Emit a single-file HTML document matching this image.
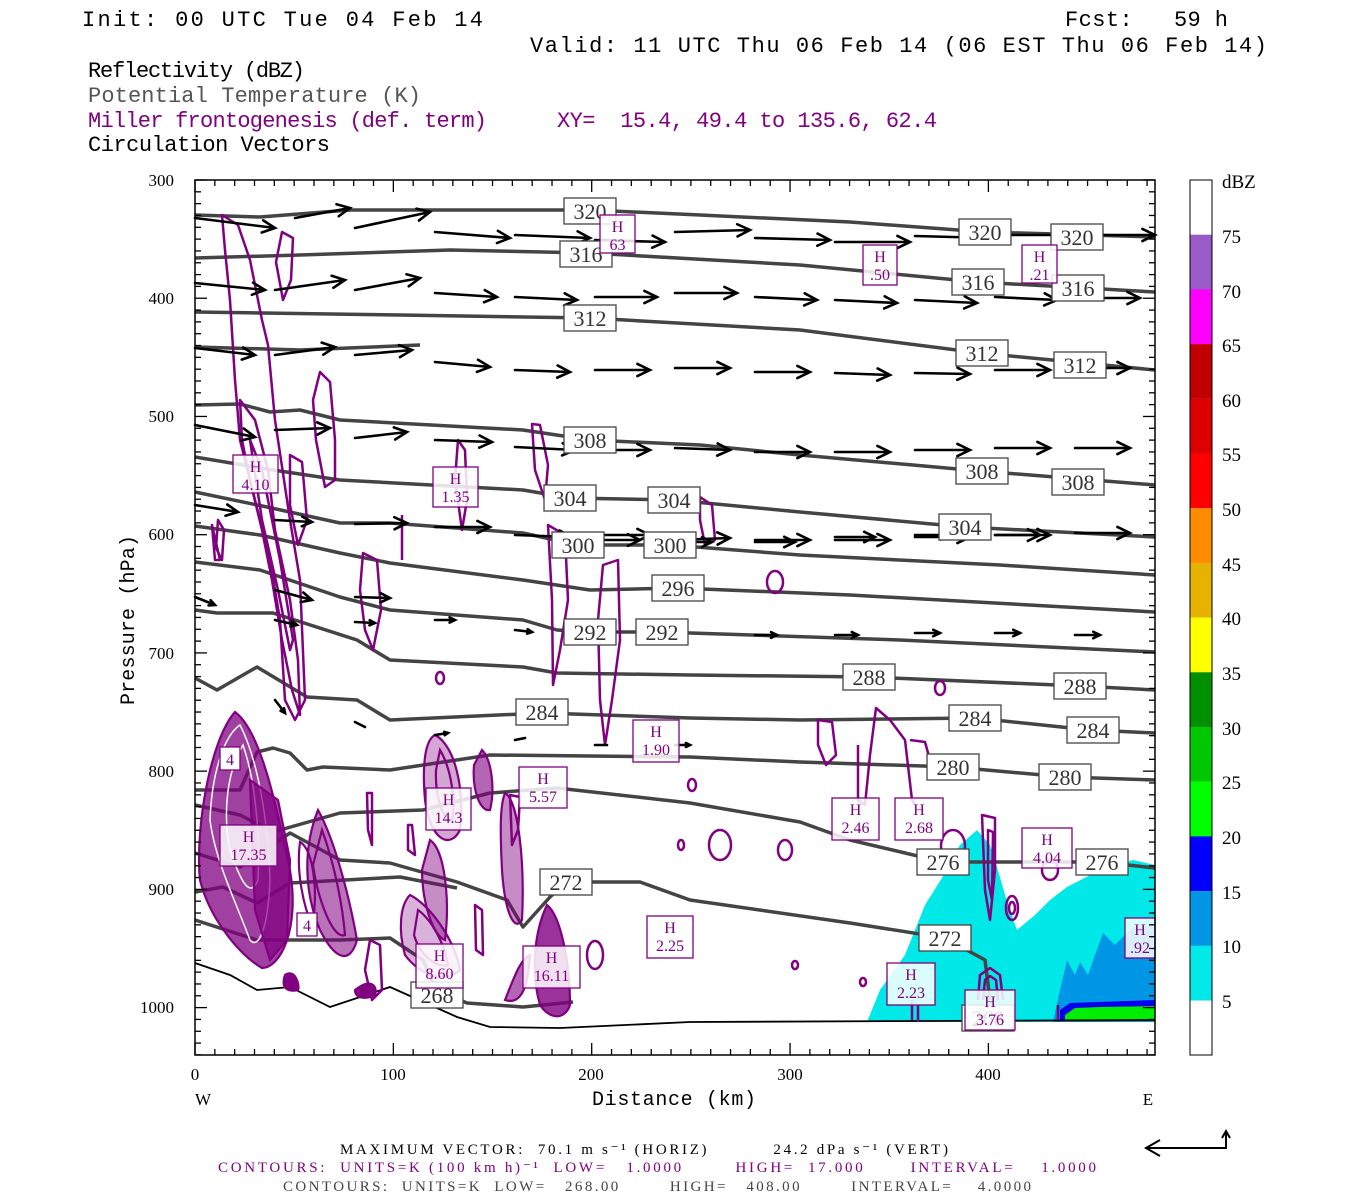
<!DOCTYPE html>
<html><head><meta charset="utf-8"><style>
body{margin:0;background:#fff}
svg{display:block}
text{white-space:pre}
.t{font-family:"Liberation Mono",monospace}
.s{font-family:"Liberation Serif",serif}
</style></head><body>
<svg id="g" width="1350" height="1200" xmlns="http://www.w3.org/2000/svg" xml:space="preserve">
<rect width="1350" height="1200" fill="#fff"/>
<g class="t" font-size="22">
<text x="82" y="26" textLength="401" lengthAdjust="spacing">Init: 00 UTC Tue 04 Feb 14</text>
<text x="1065" y="26" textLength="163" lengthAdjust="spacing">Fcst:   59 h</text>
<text x="530" y="52" textLength="737" lengthAdjust="spacing">Valid: 11 UTC Thu 06 Feb 14 (06 EST Thu 06 Feb 14)</text>
<text x="88" y="77" textLength="217" lengthAdjust="spacing">Reflectivity (dBZ)</text>
<text x="88" y="102" fill="#555" textLength="333" lengthAdjust="spacing">Potential Temperature (K)</text>
<text x="88" y="127" fill="#800080" textLength="399" lengthAdjust="spacing">Miller frontogenesis (def. term)</text>
<text x="557" y="127" fill="#800080" textLength="380" lengthAdjust="spacing">XY=  15.4, 49.4 to 135.6, 62.4</text>
<text x="88" y="151" textLength="242" lengthAdjust="spacing">Circulation Vectors</text>
</g>
<path d="M867,1022 L880,990 L905,955 L925,905 L942,878 L960,845 L977,830 L990,845 L997,867 L1008,905 L1017,930 L1035,915 L1050,900 L1067,887 L1100,870 L1133,860 L1155,865 L1155,1022 Z" fill="#00e8e8"/>
<path d="M1053,1022 L1060,990 L1067,960 L1075,975 L1080,962 L1088,975 L1095,955 L1103,933 L1115,945 L1133,927 L1155,925 L1155,1022 Z" fill="#0096e6"/>
<path d="M1060,1010 L1070,1003 L1100,1002 L1155,1000 L1155,1020 L1060,1020 Z" fill="#0000ee"/>
<path d="M1065,1015 L1075,1008 L1100,1007 L1155,1006 L1155,1020 L1065,1020 Z" fill="#00ee00"/>
<g fill="none" stroke="#444" stroke-width="3.5" stroke-linejoin="round">
<polyline points="195,215 260,217 350,210 590,210 700,215 850,222 985,232 1155,237"/>
<polyline points="195,258 300,255 450,250 590,253 800,265 978,282 1155,292"/>
<polyline points="195,312 400,315 590,318 800,330 980,353 1155,370"/>
<polyline points="195,347 300,350 420,345"/>
<polyline points="195,405 240,404 270,412 300,410 340,420 523,430 590,440 700,445 800,455 980,471 1155,485"/>
<polyline points="195,457 273,470 340,480 523,490 570,498 674,500 800,512 965,527 1155,537"/>
<polyline points="195,492 267,507 340,523 390,523 523,533 578,545 670,545 800,555 1000,565 1155,575"/>
<polyline points="195,526 260,535 340,553 390,563 523,580 590,590 678,588 850,595 1155,612"/>
<polyline points="195,562 260,570 340,597 390,610 523,620 557,630 590,632 660,632 900,640 1155,652"/>
<polyline points="195,610 217,613 273,613 357,640 390,660 523,667 557,673 690,675 869,677 1080,686 1155,690"/>
<polyline points="195,678 217,690 257,667 307,697 357,700 390,720 543,713 690,718 800,720 975,718 1090,730 1155,733"/>
<polyline points="195,790 240,790 257,752 273,748 290,753 307,770 323,767 390,770 490,755 690,757 800,762 953,767 1065,777 1155,780"/>
<polyline points="195,805 240,815 273,832 340,813 423,810 490,793 557,788 690,803 800,822 850,840 943,862 1100,862 1155,868"/>
<polyline points="195,853 240,867 290,833 340,860 390,863 457,882 507,900 523,927 550,897 566,882 640,882 690,900 850,923 945,938 985,960 990,1000"/>
<polyline points="195,892 223,887 257,903 290,883 400,877 457,888"/>
<polyline points="195,920 257,940 340,940 390,938 423,960 436,990 467,1003 523,1007 573,1002"/>
</g>
<polyline points="195,963 230,975 257,990 290,987 330,1007 390,987 457,1017 490,1027 560,1028 690,1022 1155,1020" fill="none" stroke="#000" stroke-width="1.8"/>
<g fill="none" stroke="#800080" stroke-width="2.5" stroke-linejoin="round">
<polygon points="222,215 238,225 250,260 262,320 268,345 275,420 290,520 300,580 305,700 295,720 285,700 280,620 270,560 255,500 240,440 235,380 230,300 225,250"/>
<polygon points="240,400 255,420 268,470 275,530 290,600 298,660 300,715 292,690 282,640 272,580 262,530 250,480 242,440"/>
<polygon points="250,440 262,470 280,560 293,640 290,650 278,590 262,520"/>
<polygon points="282,232 293,238 291,280 283,300 276,262"/>
<polygon points="320,372 330,382 335,440 335,480 325,487 316,440 313,400"/>
<polygon points="290,455 302,462 307,520 298,545 290,505"/>
<polygon points="218,520 224,530 222,560 216,548"/>
<polygon points="212,525 220,560 215,560"/>
<polygon points="363,553 377,560 381,610 373,650 365,630 360,590"/>
<polyline points="402,515 402,560"/>
<polygon points="548,525 565,535 568,600 560,650 553,685 552,600"/>
<polygon points="603,565 618,560 620,640 612,700 605,745 600,700 598,620"/>
<polygon points="532,424 540,425 548,465 545,500 535,470"/>
<polygon points="458,440 465,450 467,500 462,530 455,480"/>
<polygon points="700,497 712,505 715,540 705,545 700,520"/>
<ellipse cx="775" cy="582" rx="8" ry="11"/>
<polygon points="818,720 832,722 836,755 826,765 818,745"/>
<polyline points="858,745 858,800 865,805 870,755 876,708 890,720 905,740 912,800 915,805"/>
<polyline points="910,740 925,742 930,760"/>
<ellipse cx="440" cy="678" rx="4" ry="6"/>
<ellipse cx="940" cy="688" rx="5" ry="7"/>
<ellipse cx="720" cy="845" rx="11" ry="15"/>
<ellipse cx="785" cy="850" rx="7" ry="10"/>
<ellipse cx="692" cy="785" rx="4" ry="6"/>
<ellipse cx="681" cy="845" rx="3" ry="5"/>
<ellipse cx="595" cy="955" rx="8" ry="14"/>
<ellipse cx="795" cy="965" rx="3" ry="4"/>
<ellipse cx="863" cy="982" rx="3" ry="4"/>
<polygon points="367,793 372,793 372,845 368,830"/>
<polygon points="408,825 412,825 415,855 408,850"/>
<polygon points="510,795 520,797 518,830 512,845"/>
<polygon points="370,940 380,945 382,990 372,1000 365,970"/>
<polygon points="475,905 482,910 483,955 476,950"/>
<polygon points="982,815 995,818 995,870 990,920 985,890"/>
<polygon points="988,830 993,832 992,900 988,880"/>
<ellipse cx="1012" cy="908" rx="6" ry="12"/>
<ellipse cx="1012" cy="908" rx="3" ry="6"/>
<ellipse cx="953" cy="846" rx="12" ry="16"/>
<polygon points="928,930 950,928 965,940 950,950 930,945"/>
<polyline points="978,1000 980,975 990,968 1000,975 1003,1000"/>
<polyline points="983,1000 985,980 990,976 996,980 998,1000"/>
<line x1="912" y1="1000" x2="912" y2="1020"/>
<line x1="918" y1="1005" x2="918" y2="1022"/>
<line x1="1058" y1="1005" x2="1058" y2="1020"/>
<ellipse cx="1050" cy="870" rx="8" ry="10"/>
</g>
<g fill="none" stroke="#800080" stroke-width="2.2">
<path d="M235,712 C260,730 275,800 290,870 C300,930 280,968 262,968 C240,955 210,920 200,880 C195,830 210,740 235,712 Z" fill="#800080" fill-opacity="0.75"/>
<path d="M240,725 C258,760 268,820 270,880 C268,930 258,950 250,940 C235,900 215,860 210,820 C212,770 225,735 240,725 Z" stroke="#fff" stroke-width="1.5"/>
<path d="M243,745 C255,780 260,830 258,880 C250,900 240,880 230,850 C222,810 228,770 243,745 Z" stroke="#fff" stroke-width="1.5"/>
<path d="M250,780 L278,800 L290,860 L287,940 L270,960 L255,910 Z" fill="#800080" fill-opacity="0.7"/>
<path d="M318,810 C335,840 350,900 357,940 C350,965 335,960 320,930 C305,895 302,850 318,810 Z" fill="#800080" fill-opacity="0.55"/>
<path d="M322,830 C333,860 342,900 345,935 C333,940 318,900 313,865 Z"/>
<path d="M300,842 C315,850 318,900 312,925 C303,905 296,870 300,842 Z"/>
<path d="M435,735 C455,745 465,790 460,830 C450,850 430,840 425,800 C422,765 425,740 435,735 Z" fill="#800080" fill-opacity="0.35"/>
<path d="M440,750 C452,770 456,805 452,820 C442,820 435,795 436,770 Z"/>
<path d="M430,840 C445,850 450,900 445,940 C432,935 422,900 422,870 Z" fill="#800080" fill-opacity="0.45"/>
<path d="M410,895 C430,905 455,940 460,970 C445,985 420,975 405,955 C398,930 400,905 410,895 Z" fill="#800080" fill-opacity="0.3"/>
<path d="M418,910 C432,920 445,945 448,965 C435,968 420,955 414,935 Z"/>
<path d="M482,750 C492,760 495,790 490,810 C480,812 472,790 474,765 Z" fill="#800080" fill-opacity="0.6"/>
<path d="M505,793 C518,800 525,860 522,920 C515,932 505,915 502,870 C500,830 500,805 505,793 Z" fill="#800080" fill-opacity="0.45"/>
<path d="M547,905 C560,915 570,960 570,1005 C565,1020 550,1020 540,1005 C530,970 535,930 547,905 Z" fill="#800080" fill-opacity="0.8"/>
<path d="M285,975 C295,968 300,985 298,990 C290,992 280,990 285,975 Z" fill="#800080"/>
<path d="M355,990 C370,978 378,985 375,995 C365,1000 355,998 355,990 Z" fill="#800080"/>
<path d="M505,1000 C515,975 520,960 530,955 C528,990 520,1005 505,1000 Z" fill="#800080" fill-opacity="0.6"/>
</g>
<g id="vec" stroke="#000" stroke-width="2.6" fill="none" stroke-linecap="round"></g>
<g id="lab" class="s" font-size="22" fill="#333" text-anchor="middle"></g>
<g id="hl" class="s" font-size="16" fill="#800080" text-anchor="middle"></g>
<rect x="195" y="180" width="960" height="875" fill="none" stroke="#000" stroke-width="1.5"/>
<g id="ticks" stroke="#000" stroke-width="1.3"></g>
<g class="s" font-size="17" text-anchor="end">
<text x="174" y="186">300</text><text x="174" y="304">400</text><text x="174" y="422">500</text><text x="174" y="540">600</text><text x="174" y="659">700</text><text x="174" y="777">800</text><text x="174" y="895">900</text><text x="174" y="1013">1000</text>
</g>
<g class="s" font-size="17" text-anchor="middle">
<text x="195" y="1080">0</text><text x="393" y="1080">100</text><text x="591" y="1080">200</text><text x="790" y="1080">300</text><text x="988" y="1080">400</text>
<text x="203" y="1105">W</text><text x="1148" y="1105">E</text>
</g>
<text class="t" x="592" y="1105" font-size="20" textLength="164" lengthAdjust="spacing">Distance (km)</text>
<text class="t" font-size="20" transform="translate(134,705) rotate(-90)" textLength="170" lengthAdjust="spacing">Pressure (hPa)</text>
<g id="cb"></g>
<rect x="1190" y="180" width="22" height="875" fill="none" stroke="#000" stroke-width="1"/>
<g class="s" font-size="19">
<text x="1222" y="188">dBZ</text>
<text x="1222" y="243">75</text><text x="1222" y="298">70</text><text x="1222" y="352">65</text><text x="1222" y="407">60</text><text x="1222" y="461">55</text><text x="1222" y="516">50</text><text x="1222" y="571">45</text><text x="1222" y="625">40</text><text x="1222" y="680">35</text><text x="1222" y="735">30</text><text x="1222" y="789">25</text><text x="1222" y="844">20</text><text x="1222" y="899">15</text><text x="1222" y="953">10</text><text x="1222" y="1008">5</text>
</g>
<g class="s" font-size="15">
<text x="340" y="1154" textLength="608" lengthAdjust="spacing">MAXIMUM VECTOR:  70.1 m s⁻¹ (HORIZ)          24.2 dPa s⁻¹ (VERT)</text>
<text x="218" y="1172" fill="#800080" textLength="878" lengthAdjust="spacing">CONTOURS:  UNITS=K (100 km h)⁻¹  LOW=   1.0000        HIGH=  17.000       INTERVAL=    1.0000</text>
<text x="283" y="1191" fill="#444" textLength="748" lengthAdjust="spacing">CONTOURS:  UNITS=K  LOW=   268.00        HIGH=   408.00        INTERVAL=    4.0000</text>
</g>
<g stroke="#000" stroke-width="2" fill="none">
<polyline points="1226,1133 1226,1148 1146,1148"/>
<polyline points="1160,1140 1146,1148 1160,1156"/>
<polyline points="1222,1138 1226,1131 1230,1138"/>
</g>
</svg>
<script>
var NS="http://www.w3.org/2000/svg";
function el(p,t,a,txt){var e=document.createElementNS(NS,t);for(var k in a)e.setAttribute(k,a[k]);if(txt)e.textContent=txt;p.appendChild(e);return e;}
var vec=document.getElementById('vec');
function arrow(x1,y1,x2,y2){var d="M"+x1+","+y1+"L"+x2+","+y2;var L=Math.hypot(x2-x1,y2-y1);if(L>12){var a=Math.atan2(y2-y1,x2-x1),h=Math.min(14,L*0.3);
d+="M"+(x2-h*Math.cos(a-0.45))+","+(y2-h*Math.sin(a-0.45))+"L"+x2+","+y2+"L"+(x2-h*Math.cos(a+0.45))+","+(y2-h*Math.sin(a+0.45));}
el(vec,'path',{d:d});}
var rows=[
[[195,218,275,228],[295,218,350,208],[355,228,430,212],[435,232,510,238],[515,235,590,238],[595,240,665,242],[675,232,750,230],[755,238,830,240],[835,242,910,242],[915,236,990,238],[1000,235,1075,235],[1075,235,1155,235]],
[[195,283,265,290],[275,290,345,280],[355,290,420,278],[435,293,497,297],[515,297,577,300],[595,297,657,297],[675,293,737,293],[755,297,817,300],[835,300,897,303],[915,300,977,303],[995,297,1057,300],[1075,298,1140,298]],
[[195,348,255,355],[275,355,335,347],[355,355,412,350],[435,362,490,367],[515,370,570,372],[595,370,650,370],[675,368,730,368],[755,372,810,372],[835,373,890,375],[915,373,970,374],[995,370,1050,370],[1075,368,1130,368]],
[[195,425,255,437],[275,430,330,428],[355,438,407,432],[435,440,492,442],[515,447,575,450],[595,450,650,450],[675,448,730,450],[755,452,810,452],[835,452,890,452],[915,450,970,450],[995,448,1050,448],[1075,448,1130,448]],
[[195,505,238,512],[275,520,312,522],[355,524,407,523],[435,527,490,527],[515,535,572,537],[595,535,650,535],[675,540,730,538],[755,540,810,540],[835,540,890,540],[915,537,970,537],[995,535,1050,535],[1075,533,1130,533]],
[[195,597,215,605],[275,590,312,600],[355,597,390,598],[595,540,640,540],[675,542,712,542],[755,542,795,542],[835,537,875,537],[915,535,950,535],[995,535,1040,535]],
[[275,620,297,625],[355,622,375,623],[435,620,455,620],[515,630,532,632],[595,632,615,632],[755,635,777,635],[835,635,858,635],[915,633,940,633],[995,633,1020,633],[1075,635,1100,635]],
[[275,700,285,713],[355,722,365,727],[435,735,448,733],[515,740,525,738],[595,745,607,745],[675,745,690,745]]
];
rows.forEach(function(r){r.forEach(function(a){arrow(a[0],a[1],a[2],a[3]);});});
var lab=document.getElementById('lab');
[[320,590,211],[316,586,254],[312,590,318],[308,590,440],[304,570,498],[304,674,500],[300,578,545],[300,670,545],[296,678,588],[292,590,632],[292,662,632],[288,869,677],[288,1080,686],[284,542,712],[284,975,718],[284,1093,730],[280,953,767],[280,1065,777],[276,943,862],[276,1102,862],[272,566,882],[272,945,938],[268,437,995],[268,988,1018],[320,985,232],[320,1077,237],[316,978,282],[316,1078,288],[312,982,353],[312,1080,365],[308,982,471],[308,1078,482],[304,965,527]].forEach(function(l){
el(lab,'rect',{x:l[1]-26,y:l[2]-13,width:52,height:26,fill:'#fff',stroke:'#444','stroke-width':1.3});
el(lab,'text',{x:l[1],y:l[2]+8},String(l[0]));});
var hl=document.getElementById('hl');
[[600,215,35,38,"63"],[863,245,34,40,".50"],[1022,245,35,38,".21"],[233,455,45,38,"4.10"],[433,467,45,40,"1.35"],[633,720,46,42,"1.90"],[519,767,48,41,"5.57"],[426,788,45,42,"14.3"],[220,825,57,41,"17.35"],[832,798,47,42,"2.46"],[895,798,48,42,"2.68"],[1022,828,50,40,"4.04"],[647,916,46,42,"2.25"],[416,944,47,44,"8.60"],[523,946,57,42,"16.11"],[887,963,48,42,"2.23"],[965,990,50,40,"3.76"],[1125,918,30,40,".92"]].forEach(function(h){
el(hl,'rect',{x:h[0],y:h[1],width:h[2],height:h[3],fill:'#fff','fill-opacity':0.85,stroke:'#800080','stroke-width':1.3});
var cx=h[0]+h[2]/2;el(hl,'text',{x:cx,y:h[1]+17},"H");el(hl,'text',{x:cx,y:h[1]+35},h[4]);});
[[220,747,20,23],[297,913,20,23]].forEach(function(b){el(hl,'rect',{x:b[0],y:b[1],width:b[2],height:b[3],fill:'#fff',stroke:'#800080','stroke-width':1.3});el(hl,'text',{x:b[0]+10,y:b[1]+18},"4");});
var tk=document.getElementById('ticks');
for(var p=300;p<=1040;p+=10){var y=180+(p-300)*1.1823;var len=(p%100==0)?12:6;
el(tk,'line',{x1:195,y1:y,x2:195+len,y2:y});el(tk,'line',{x1:1155,y1:y,x2:1155-len,y2:y});}
for(var d=0;d<=484;d+=10){var x=195+d*1.9835;var len=(d%100==0)?12:6;
el(tk,'line',{x1:x,y1:1055,x2:x,y2:1055-len});el(tk,'line',{x1:x,y1:180,x2:x,y2:180+len});}
var cb=document.getElementById('cb');
var cols=["#fff","#9a5ac8","#ff00ff","#c00000","#dc0000","#ff0000","#ff8c00","#e6b400","#ffff00","#009000","#00c800","#00ff00","#0000ff","#0096e6","#00e8e8","#fff"];
for(var i=0;i<16;i++){el(cb,'rect',{x:1190,y:180+i*54.7,width:22,height:54.8,fill:cols[i]});}
</script>
</body></html>
